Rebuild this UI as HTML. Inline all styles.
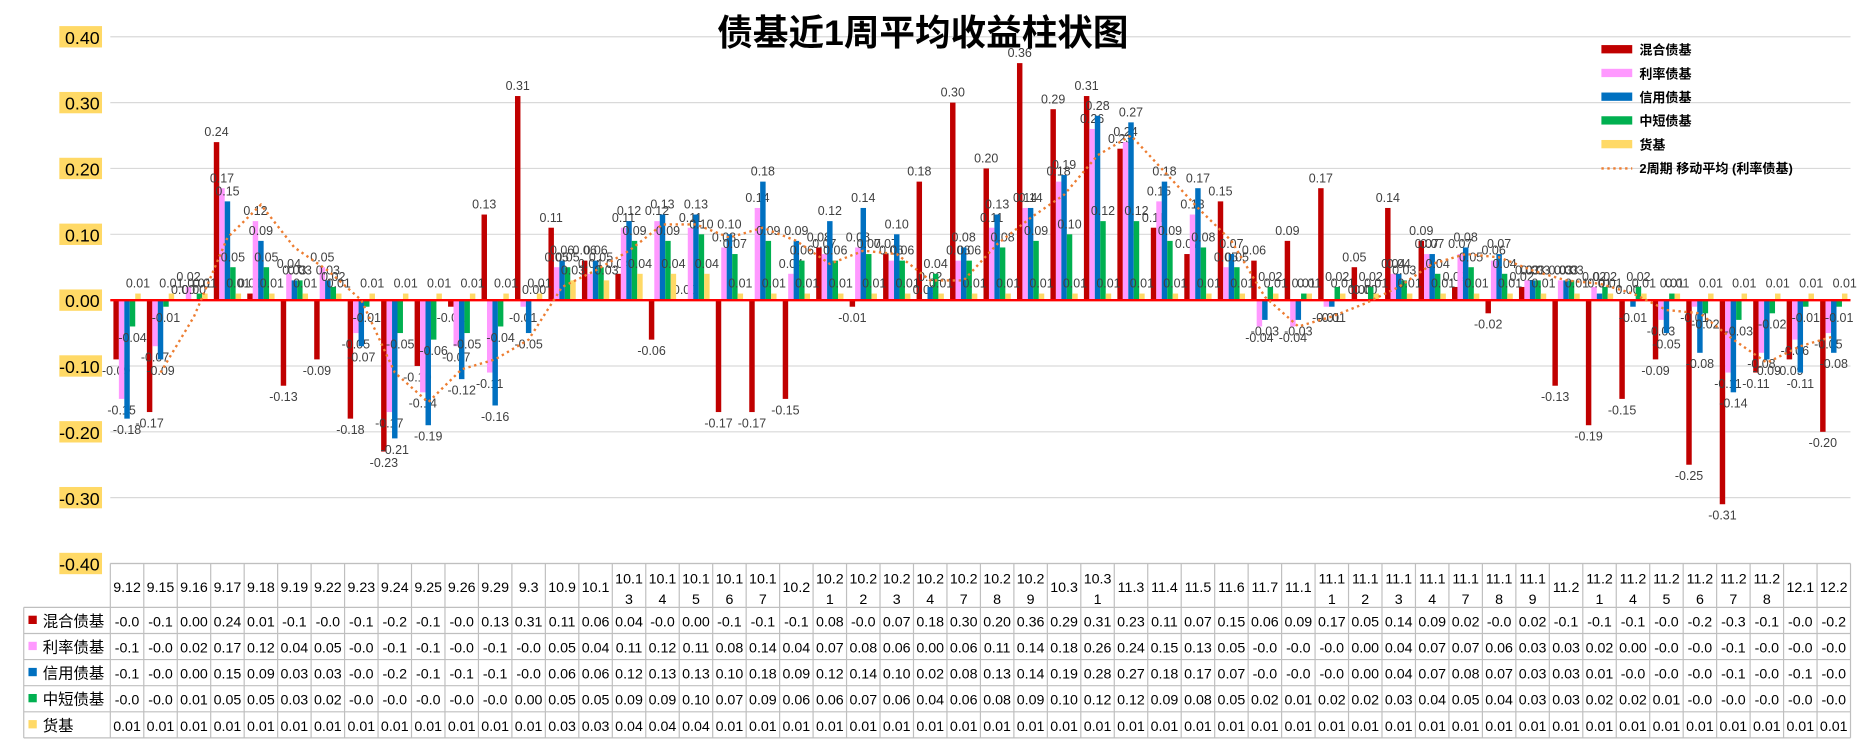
<!DOCTYPE html>
<html><head><meta charset="utf-8"><style>
body{margin:0;background:#fff;width:1860px;height:745px;overflow:hidden;font-family:"Liberation Sans","Noto Sans CJK SC",sans-serif}
</style></head><body>
<svg id="c" width="1860" height="745" viewBox="0 0 1568 628" preserveAspectRatio="none" xmlns="http://www.w3.org/2000/svg" font-family="Liberation Sans, Noto Sans CJK SC, sans-serif"></svg>
<script>
const categories=["9.12","9.15","9.16","9.17","9.18","9.19","9.22","9.23","9.24","9.25","9.26","9.29","9.3","10.9","10.1","10.13","10.14","10.15","10.16","10.17","10.2","10.21","10.22","10.23","10.24","10.27","10.28","10.29","10.3","10.31","11.3","11.4","11.5","11.6","11.7","11.1","11.11","11.12","11.13","11.14","11.17","11.18","11.19","11.2","11.21","11.24","11.25","11.26","11.27","11.28","12.1","12.2"];
const mixed=[-0.09,-0.17,0.00,0.24,0.01,-0.13,-0.09,-0.18,-0.23,-0.10,-0.01,0.13,0.31,0.11,0.06,0.04,-0.06,0.00,-0.17,-0.17,-0.15,0.08,-0.01,0.07,0.18,0.30,0.20,0.36,0.29,0.31,0.23,0.11,0.07,0.15,0.06,0.09,0.17,0.05,0.14,0.09,0.02,-0.02,0.02,-0.13,-0.19,-0.15,-0.09,-0.25,-0.31,-0.11,-0.09,-0.20];
const rate=[-0.15,-0.07,0.02,0.17,0.12,0.04,0.05,-0.05,-0.17,-0.14,-0.07,-0.11,-0.01,0.05,0.04,0.11,0.12,0.11,0.08,0.14,0.04,0.07,0.08,0.06,0.00,0.06,0.11,0.14,0.18,0.26,0.24,0.15,0.13,0.05,-0.04,-0.04,-0.01,0.00,0.04,0.07,0.07,0.06,0.03,0.03,0.02,0.00,-0.03,-0.01,-0.11,-0.08,-0.06,-0.05];
const credit=[-0.18,-0.09,0.00,0.15,0.09,0.03,0.03,-0.07,-0.21,-0.19,-0.12,-0.16,-0.05,0.06,0.06,0.12,0.13,0.13,0.10,0.18,0.09,0.12,0.14,0.10,0.02,0.08,0.13,0.14,0.19,0.28,0.27,0.18,0.17,0.07,-0.03,-0.03,-0.01,0.00,0.04,0.07,0.08,0.07,0.03,0.03,0.01,-0.01,-0.05,-0.08,-0.14,-0.09,-0.11,-0.08];
const midshort=[-0.04,-0.01,0.01,0.05,0.05,0.03,0.02,-0.01,-0.05,-0.06,-0.05,-0.04,0.00,0.05,0.05,0.09,0.09,0.10,0.07,0.09,0.06,0.06,0.07,0.06,0.04,0.06,0.08,0.09,0.10,0.12,0.12,0.09,0.08,0.05,0.02,0.01,0.02,0.02,0.03,0.04,0.05,0.04,0.03,0.03,0.02,0.02,0.01,-0.02,-0.03,-0.02,-0.01,-0.01];
const money=[0.01,0.01,0.01,0.01,0.01,0.01,0.01,0.01,0.01,0.01,0.01,0.01,0.01,0.03,0.03,0.04,0.04,0.04,0.01,0.01,0.01,0.01,0.01,0.01,0.01,0.01,0.01,0.01,0.01,0.01,0.01,0.01,0.01,0.01,0.01,0.01,0.01,0.01,0.01,0.01,0.01,0.01,0.01,0.01,0.01,0.01,0.01,0.01,0.01,0.01,0.01,0.01];
const yTicks=[0.4,0.3,0.2,0.1,0,-0.1,-0.2,-0.3,-0.4];
const seriesNames=["混合债基","利率债基","信用债基","中短债基","货基"];
const colors=["#C00000","#FF99FF","#0070C0","#00B050","#FFD966"];
const series=[mixed,rate,credit,midshort,money];

const S=document.getElementById('c');const NS="http://www.w3.org/2000/svg";
function el(t,a,txt){const e=document.createElementNS(NS,t);for(const k in a)e.setAttribute(k,a[k]);if(txt!==undefined)e.textContent=txt;S.appendChild(e);return e;}
const X0=93,X1=1560,n=categories.length,cw=(X1-X0)/n;
const y=v=>253-v*555;
const cx=i=>X0+(i+0.5)*cw;
const bw=4.6;
yTicks.forEach(t=>{
  const g=el('line',{x1:X0,x2:X1,y1:y(t),y2:y(t),stroke:'#d9d9d9','stroke-width':1});
  
  
  const r=el('rect',{x:50,y:y(t)-9,width:36,height:18,fill:'#FFD966'});
  
  
  const tx=el('text',{x:84,y:y(t)+6,'text-anchor':'end','font-size':15,fill:'#000'},t.toFixed(2));
  
  
});
series.forEach((s,k)=>{
  s.forEach((v,i)=>{
    const x=cx(i)-11.5+k*bw;
    const r=el('rect',{x:x,y:Math.min(y(v),y(0)),width:bw,height:Math.max(Math.abs(y(v)-y(0)),0.01),fill:colors[k]});
    
    
    const ly=v>=0?y(v)-5:y(v)+13;
    const t=el('text',{x:x+bw/2,y:ly,'text-anchor':'middle','font-size':10.5,fill:'#404040'},v.toFixed(2));
    
    
  });
});
const z=el('line',{x1:X0,x2:X1,y1:y(0),y2:y(0),stroke:'#FF0000','stroke-width':2});


let pts=[];for(let i=1;i<n;i++){pts.push(cx(i)+','+y((rate[i]+rate[i-1])/2));}
const ma=el('polyline',{points:pts.join(' '),fill:'none',stroke:'#ED7D31','stroke-width':2,'stroke-dasharray':'2 3'});


const ti=el('text',{x:778,y:38,'text-anchor':'middle','font-size':30,'font-weight':'bold',fill:'#000'},'债基近1周平均收益柱状图');


seriesNames.concat(['2周期 移动平均 (利率债基)']).forEach((nm,k)=>{
  const ly=42+k*20;
  if(k<5){const r=el('rect',{x:1350,y:ly-4,width:26,height:7,fill:colors[k]});}
  else{const l=el('line',{x1:1350,x2:1376,y1:ly,y2:ly,stroke:'#ED7D31','stroke-width':2,'stroke-dasharray':'2 3'});}
  const t=el('text',{x:1382,y:ly+4,'font-size':11,'font-weight':'bold',fill:'#000'},nm);
  
  
});
const T0=475,hdrH=37,rowH=22;
const TL=20;
const rows=5;
const bottom=T0+hdrH+rows*rowH;
[T0,T0+hdrH].concat([1,2,3,4,5].map(r=>T0+hdrH+r*rowH)).forEach((yy,j)=>{
  const l=el('line',{x1:j==0?X0:TL,x2:X1,y1:yy,y2:yy,stroke:'#bfbfbf','stroke-width':1});
  
  
});
for(let i=0;i<=n;i++){
  const l=el('line',{x1:X0+i*cw,x2:X0+i*cw,y1:T0,y2:bottom,stroke:'#bfbfbf','stroke-width':1});
  
  
}
const lv=el('line',{x1:TL,x2:TL,y1:T0+hdrH,y2:bottom,stroke:'#bfbfbf','stroke-width':1});


categories.forEach((c,i)=>{
  const lines=c.length>4?[c.slice(0,4),c.slice(4)]:[c];
  lines.forEach((s,j)=>{
    const yy=lines.length==1?T0+24:T0+17+j*17;
    const t=el('text',{x:cx(i),y:yy,'text-anchor':'middle','font-size':12,fill:'#000'},s);
    
    
  });
});
series.forEach((s,k)=>{
  const ry=T0+hdrH+k*rowH;
  const r=el('rect',{x:TL+4,y:ry+7,width:7,height:7,fill:colors[k]});
  
  
  const t=el('text',{x:TL+16,y:ry+16,'font-size':13,fill:'#000'},seriesNames[k]);
  
  
  s.forEach((v,i)=>{
    let str=v.toFixed(2);if(str.length>4)str=str.slice(0,4);
    const tt=el('text',{x:cx(i),y:ry+16,'text-anchor':'middle','font-size':12,fill:'#000'},str);
    
    
  });
});
</script>
</body></html>
